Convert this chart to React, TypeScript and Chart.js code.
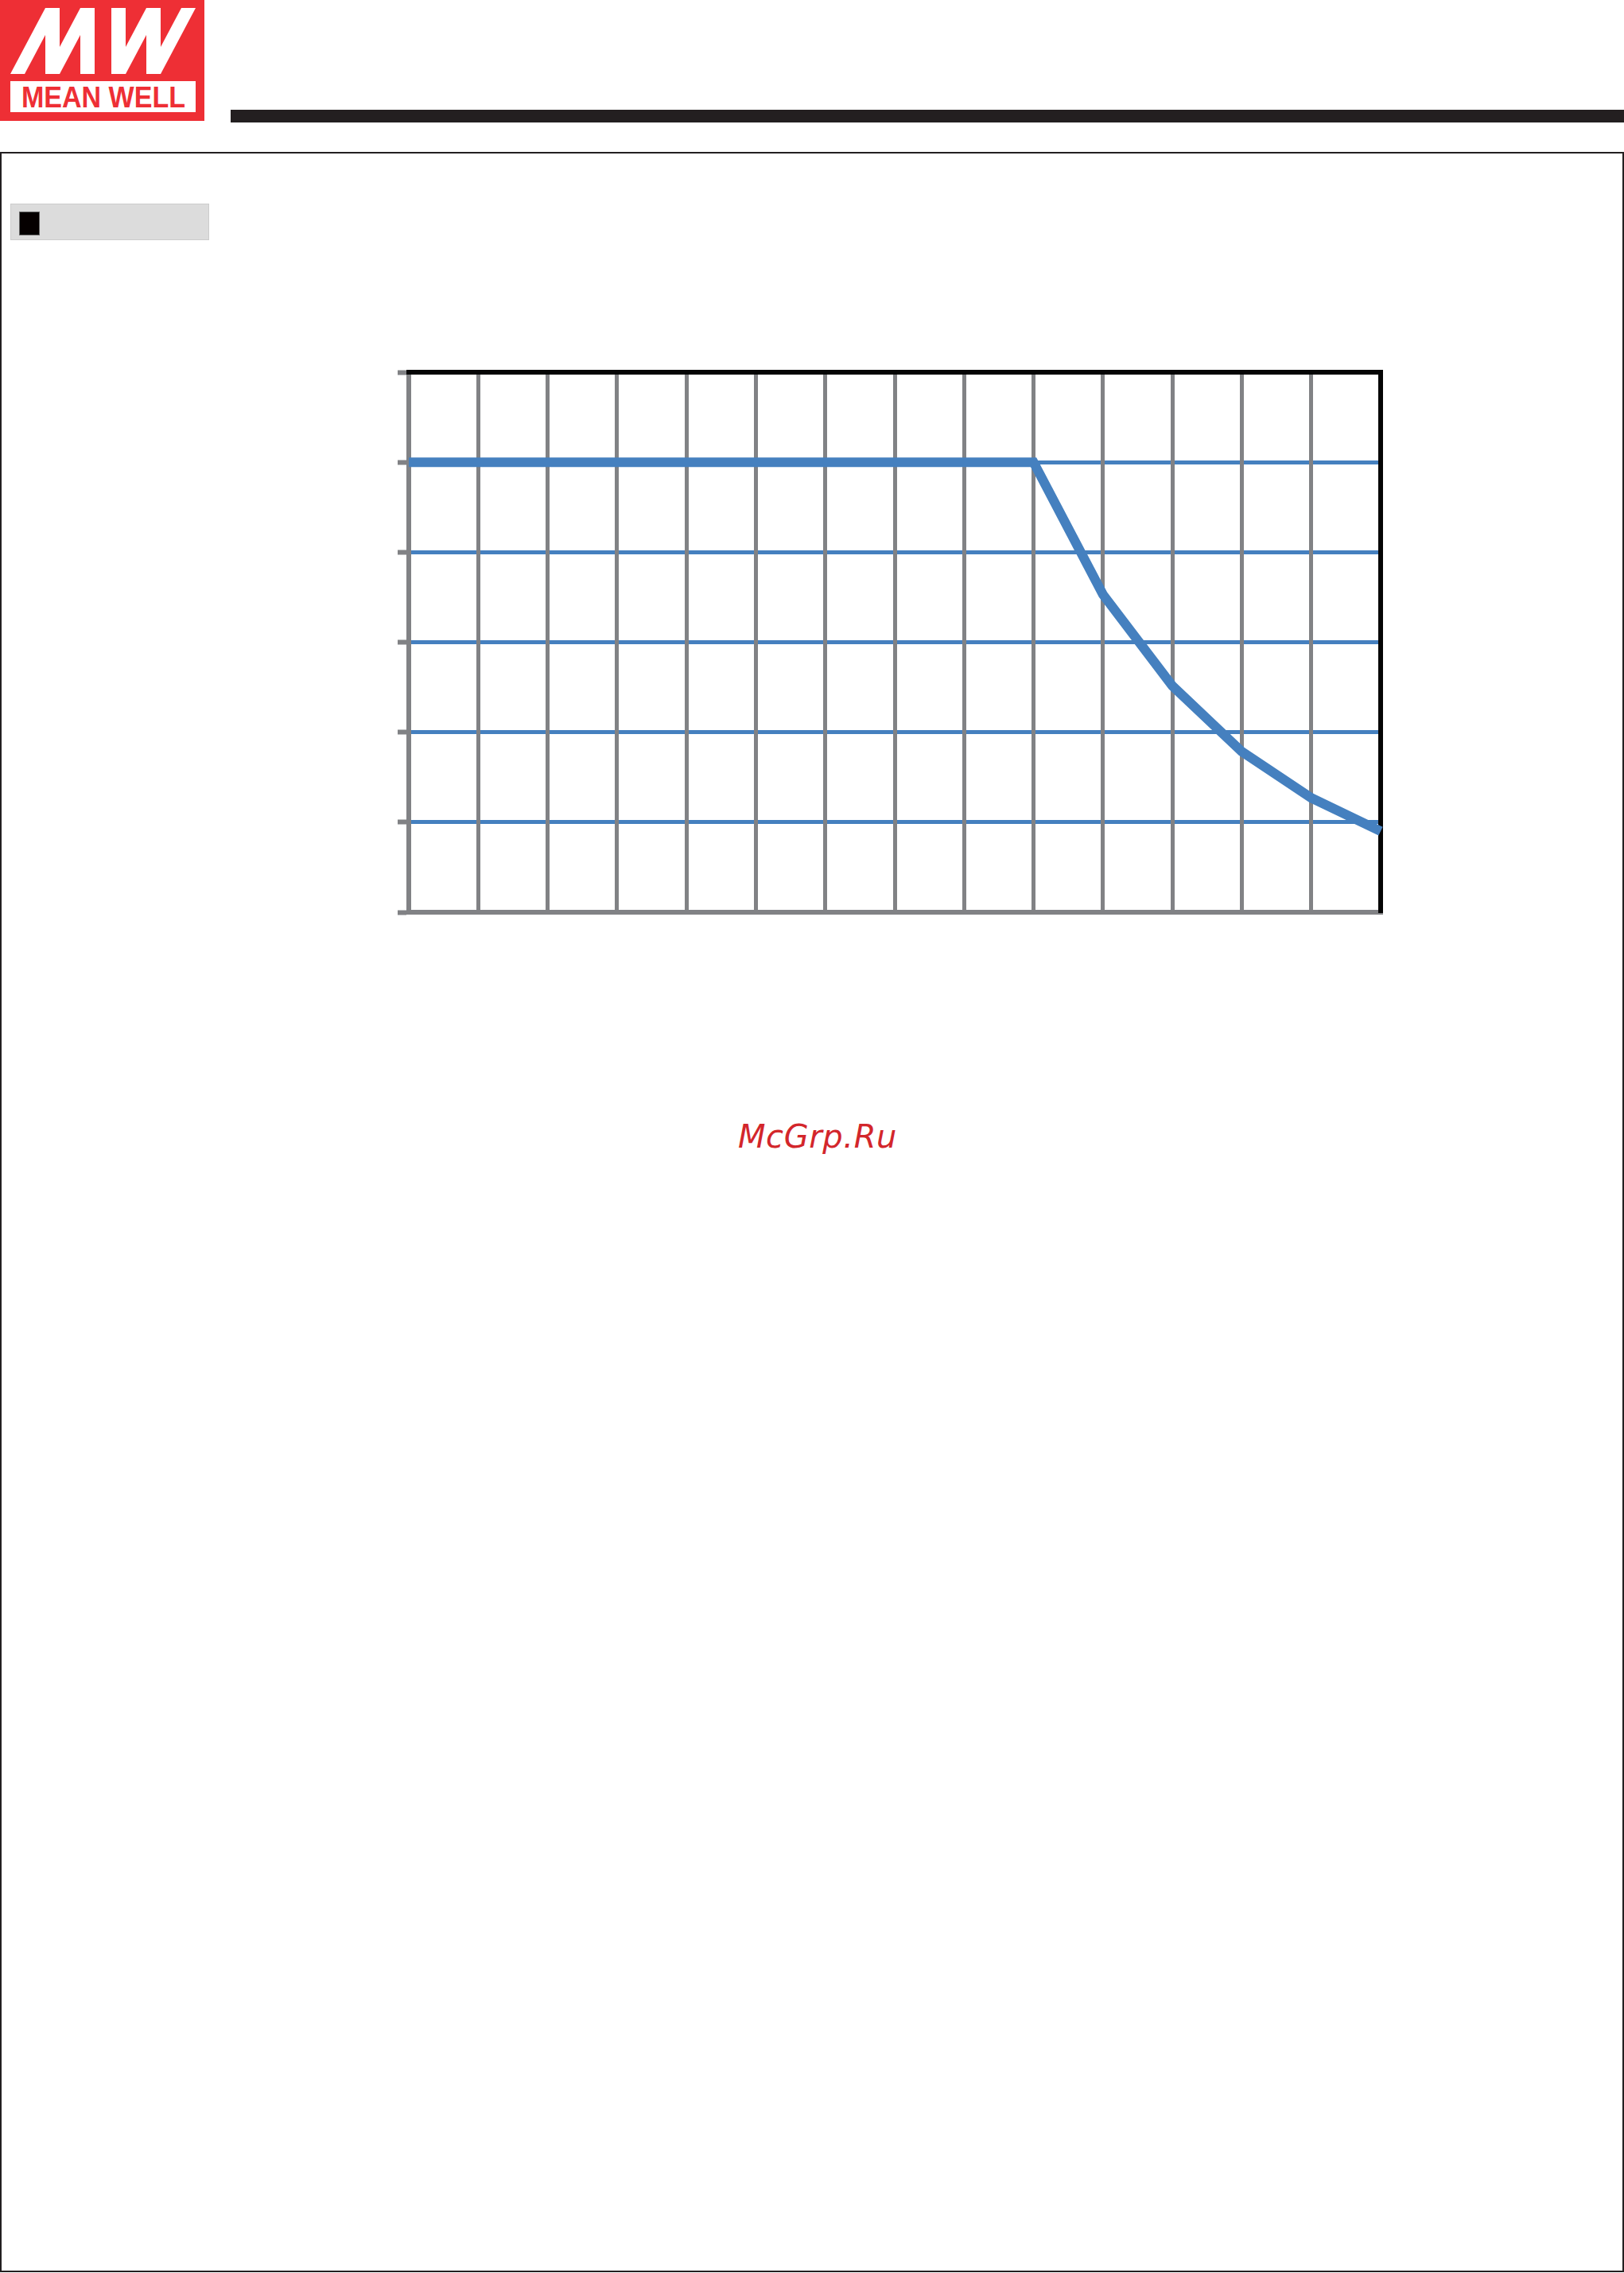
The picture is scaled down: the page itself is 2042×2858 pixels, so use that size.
import React, { useEffect, useRef } from "react";
import { Chart, registerables } from "chart.js";

Chart.register(...registerables);

// ---- data ----
// x: grid column index (ambient temperature steps), y: load (%)
const xPositions = [0, 9, 10, 11, 12, 13, 14];
const loadPercent = [100, 100, 70.6, 50.3, 35.7, 25.4, 18];
const xMin = 0;
const xMax = 14;
const xStep = 1;
const yMin = 0;
const yMax = 120;
const yStep = 20;

// ---- styles ----
const BLUE = "#4580bf";
const GRAY = "#818285";
const BLACK = "#050505";
const RED = "#ee2f35";
const DARK = "#231f20";

const mwStrokes: number[][] = [
  // M  "/|/|"
  [13, 93, 31, 93, 75, 10, 57, 10],
  [57, 10, 75, 10, 75, 93, 57, 93],
  [57, 93, 75, 93, 119, 10, 101, 10],
  [101, 10, 119, 10, 119, 93, 101, 93],
  // W  "|/|/"
  [140, 10, 158, 10, 158, 93, 140, 93],
  [140, 93, 158, 93, 202, 10, 184, 10],
  [184, 10, 202, 10, 202, 93, 184, 93],
  [184, 93, 202, 93, 246, 10, 228, 10],
];

function DeratingChart() {
  const ref = useRef<HTMLCanvasElement | null>(null);
  useEffect(() => {
    if (!ref.current) return;
    const chart = new Chart(ref.current, {
      type: "line",
      data: {
        datasets: [
          {
            data: xPositions.map((x, i) => ({ x, y: loadPercent[i] })),
            borderColor: BLUE,
            borderWidth: 12,
            pointRadius: 0,
            tension: 0,
            fill: false,
            borderCapStyle: "butt",
            borderJoinStyle: "miter",
            clip: 10,
          } as any,
        ],
      },
      options: {
        animation: false,
        responsive: false,
        maintainAspectRatio: false,
        devicePixelRatio: 1,
        events: [],
        layout: { padding: { left: 40, top: 48, right: 64, bottom: 53 } },
        plugins: {
          legend: { display: false },
          tooltip: { enabled: false },
          title: { display: false },
        },
        scales: {
          y: {
            type: "linear",
            position: "left",
            min: yMin,
            max: yMax,
            ticks: { display: false, stepSize: yStep },
            grid: {
              color: (ctx: any) =>
                ctx.tick && (ctx.tick.value === yMin || ctx.tick.value === yMax)
                  ? "rgba(0,0,0,0)"
                  : BLUE,
              lineWidth: 5,
              drawTicks: true,
              tickColor: GRAY,
              tickLength: 14,
              tickWidth: 6,
            },
            border: { display: true, color: GRAY, width: 6 },
          },
          x: {
            type: "linear",
            position: "bottom",
            min: xMin,
            max: xMax,
            ticks: { display: false, stepSize: xStep },
            grid: { color: GRAY, lineWidth: 5, drawTicks: false },
            border: { display: true, color: GRAY, width: 6 },
          },
          x2: {
            type: "linear",
            axis: "x",
            position: "top",
            ticks: { display: false },
            grid: { display: false, drawTicks: false, tickLength: 0 },
            border: { display: true, color: BLACK, width: 6 },
          },
          y2: {
            type: "linear",
            axis: "y",
            position: "right",
            ticks: { display: false },
            grid: { display: false, drawTicks: false, tickLength: 0 },
            border: { display: true, color: BLACK, width: 6 },
          },
        } as any,
      },
    });
    return () => chart.destroy();
  }, []);
  return (
    <canvas
      ref={ref}
      width={1340}
      height={780}
      style={{ position: "absolute", left: 460, top: 420, width: 1340, height: 780 }}
    />
  );
}

export default function App() {
  useEffect(() => {
    document.body.style.margin = "0";
  }, []);
  return (
    <div
      style={{
        position: "absolute",
        left: 0,
        top: 0,
        width: 2042,
        height: 2858,
        background: "#ffffff",
        overflow: "hidden",
      }}
    >
      <svg width={258} height={153} style={{ position: "absolute", left: 0, top: 0 }}>
        <rect x={0} y={0} width={257} height={152} fill={RED} />
        {mwStrokes.map((p, i) => (
          <polygon key={i} points={p.join(",")} fill="#ffffff" />
        ))}
        <rect x={13} y={102} width={233} height={39} fill="#ffffff" />
        <text
          x={27}
          y={135}
          fill={RED}
          fontFamily="'Liberation Sans', Arial, sans-serif"
          fontWeight="bold"
          fontSize={37}
          textLength={206}
          lengthAdjust="spacingAndGlyphs"
        >
          MEAN WELL
        </text>
      </svg>
      <div
        style={{
          position: "absolute",
          left: 290,
          top: 138,
          width: 1752,
          height: 16,
          background: DARK,
        }}
      />
      <div
        style={{
          position: "absolute",
          left: 0,
          top: 191,
          width: 2042,
          height: 2666,
          border: `2px solid ${DARK}`,
          boxSizing: "border-box",
        }}
      />
      <div
        style={{
          position: "absolute",
          left: 13,
          top: 256,
          width: 250,
          height: 46,
          background: "#dcdcdc",
          border: "1px solid #cccccc",
          boxSizing: "border-box",
        }}
      />
      <div
        style={{
          position: "absolute",
          left: 24,
          top: 266,
          width: 26,
          height: 30,
          background: "#050000",
          border: "1px solid #666666",
          boxSizing: "border-box",
        }}
      />
      <DeratingChart />
      <div
        style={{
          position: "absolute",
          left: 928,
          top: 1409,
          fontFamily: "'DejaVu Sans', sans-serif",
          fontStyle: "italic",
          fontSize: 40,
          lineHeight: "40px",
          color: "#d3262b",
          whiteSpace: "nowrap",
          letterSpacing: 0.6,
        }}
      >
        McGrp.Ru
      </div>
    </div>
  );
}
